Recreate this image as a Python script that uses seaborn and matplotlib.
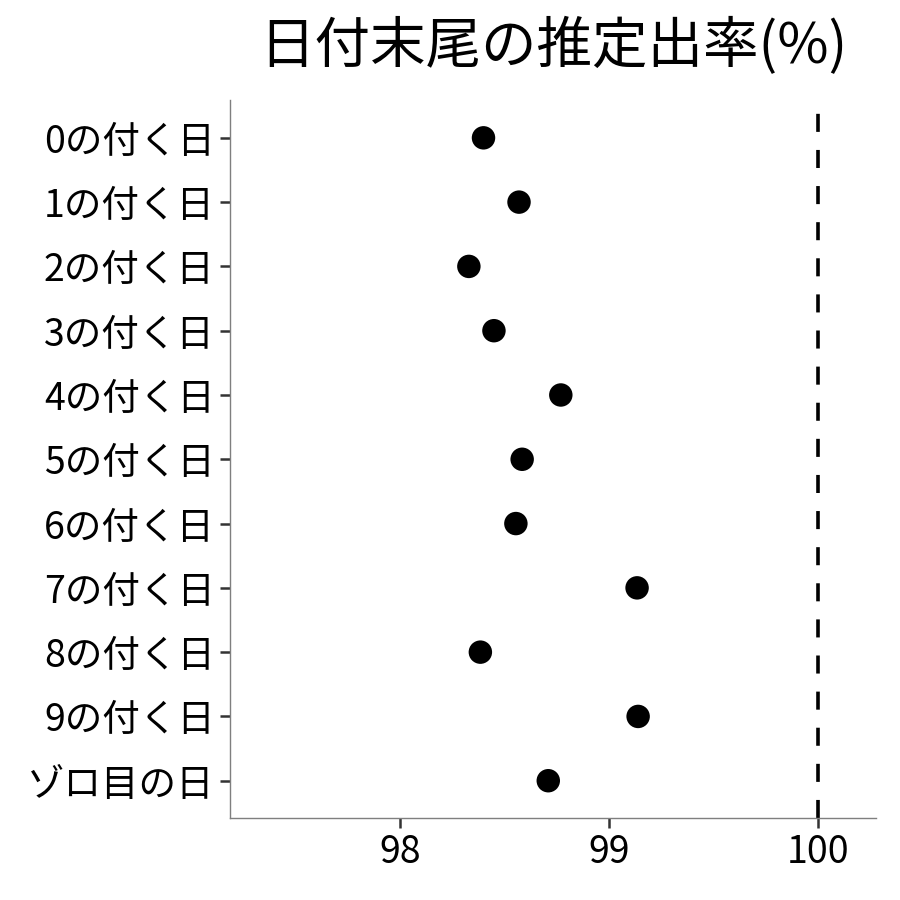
import pandas as pd
import numpy as np
import matplotlib.pyplot as plt
import seaborn as sns

labels = ["0の付く日", "1の付く日", "2の付く日", "3の付く日", "4の付く日",
          "5の付く日", "6の付く日", "7の付く日", "8の付く日", "9の付く日", "ゾロ目の日"]
rates = [98.40, 98.57, 98.33, 98.45, 98.77, 98.585, 98.555, 99.135, 98.385, 99.14, 98.71]

df = pd.DataFrame({"label": labels, "rate": rates})

sns.set_theme(style="ticks")
plt.rcParams["font.family"] = ["Noto Sans CJK JP", "DejaVu Sans"]

fig = plt.figure(figsize=(9, 9), dpi=100)
ax = fig.add_axes([0.2556, 0.0911, 0.7174, 0.7979])

sns.scatterplot(data=df, x="rate", y="label", color="black", s=285,
                edgecolor="none", ax=ax, zorder=3)
# reference line at 100%
ax.axvline(100, color="black", linewidth=2.6, linestyle=(0, (5, 5)), zorder=2)

ax.set_xlim(97.187, 100.277)
ax.set_ylim(10.58, -0.59)
ax.set_xticks([98, 99, 100])
ax.set_xlabel("")
ax.set_ylabel("")

for side in ["top", "right"]:
    ax.spines[side].set_visible(False)
for side in ["left", "bottom"]:
    ax.spines[side].set_color("#7f7f7f")
    ax.spines[side].set_linewidth(1.0)

ax.tick_params(axis="both", length=7, width=1.8, color="#333333",
               labelsize=27, labelcolor="black", pad=4)

fig.text(0.615, 0.948, "日付末尾の推定出率(%)", ha="center", va="center",
         fontsize=40, color="black")

fig.savefig("out.png", dpi=100)
